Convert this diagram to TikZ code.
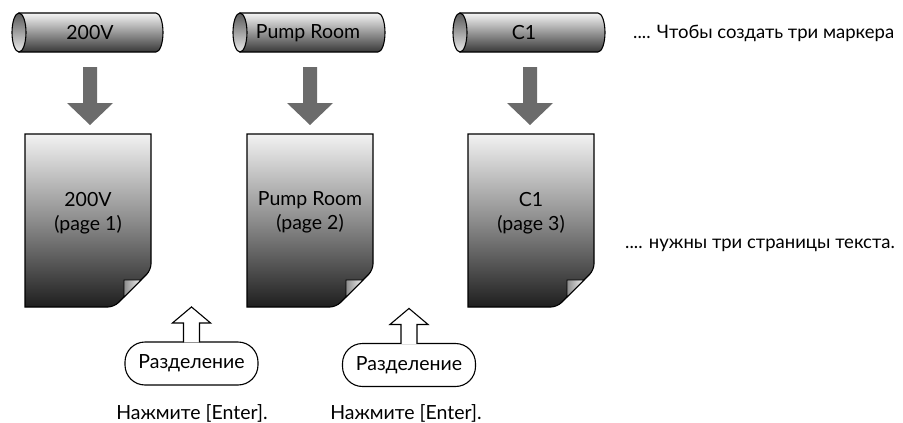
\documentclass[tikz,border=0pt]{standalone}
\usepackage{fontspec}
\setmainfont{Lato}
\usetikzlibrary{calc}
\definecolor{arrowgray}{HTML}{6B6B6B}
\tikzset{
  outline/.style={draw=black, line width=1.1pt},
  cylbody/.style={outline, top color=white!96!black, bottom color=black!78},
  cylend/.style={outline, top color=black!65, bottom color=black!8},
  pagebody/.style={outline, top color=black!5, bottom color=black!88, middle color=black!45},
  foldpiece/.style={draw=black, line width=0.8pt, left color=black!45, right color=black!4},
  downarrow/.style={fill=arrowgray, draw=none},
  hollowarrow/.style={fill=white, draw=black, line width=1.1pt, line join=miter},
  splitbox/.style={draw=black, line width=1.1pt, fill=white, rounded corners=20pt, minimum width=133pt, minimum height=43pt, inner sep=0pt},
  lbl/.style={font=\fontsize{19.5}{24}\selectfont, inner sep=0pt, align=center},
  note/.style={font=\fontsize{18.5}{22}\selectfont, inner sep=0pt, anchor=west},
}
\begin{document}
\begin{tikzpicture}[x=1pt, y=-1pt]
\useasboundingbox (0,0) rectangle (903,423);

% ---------- cylinders ----------
\foreach \L/\R in {12/163, 233/385, 453/605}{
  \path[cylbody] (\L+7,13) -- (\R-7,13) arc[start angle=-90, end angle=90, x radius=7, y radius=19.5] -- (\L+7,52) -- cycle;
  \path[cylend] (\L+7,32.5) ellipse[x radius=7, y radius=19.5];
}
\node[lbl] (cyl1) at (90,33) {200V};
\node[lbl] (cyl2) at (308,33) {Pump Room};
\node[lbl] (cyl3) at (524,33) {C1};

% ---------- pages ----------
\foreach \L in {25, 247, 468}{
  \path[pagebody] (\L,307) -- (\L,134) -- (\L+126,134) -- (\L+126,200) [rounded corners=6pt] -- (\L+126,270) -- (\L+89,307) -- (\L+60,307) [sharp corners] -- cycle;
  \path[foldpiece] (\L+99,280) -- (\L+116,280) -- (\L+99,297) -- cycle;
}
\node[lbl] (p1) at (88,213) {200V\\(page 1)};
\node[lbl] (p2) at (310,212) {Pump Room\\(page 2)};
\node[lbl] (p3) at (531,213) {C1\\(page 3)};

% ---------- gray down arrows ----------
\foreach \c in {90, 310, 530}{
  \path[downarrow] (\c-7,67) -- (\c+7,67) -- (\c+7,103) -- (\c+23,103) -- (\c,125) -- (\c-23,103) -- (\c-7,103) -- cycle;
}

% ---------- split boxes with hollow arrows ----------
\node[splitbox, lbl] (s1) at (191.5,363.5) {Разделение};
\node[splitbox, lbl] (s2) at (409,365) {Разделение};
\foreach \n in {s1, s2}{
  \path[hollowarrow] ($(\n.north)+(-8,1)$) -- ++(0,-19.5) -- ++(-11,0) -- ++(19,-16) -- ++(19,16) -- ++(-11,0) -- ++(0,19.5);
}
\node[lbl] (e1) at (192,413) {Нажмите [Enter].};
\node[lbl] (e2) at (406,413) {Нажмите [Enter].};

% ---------- notes ----------
\node[note] (n1) at (633,33) {.... Чтобы создать три маркера};
\node[note] (n2) at (625,245) {.... нужны три страницы текста.};
\end{tikzpicture}
\end{document}
